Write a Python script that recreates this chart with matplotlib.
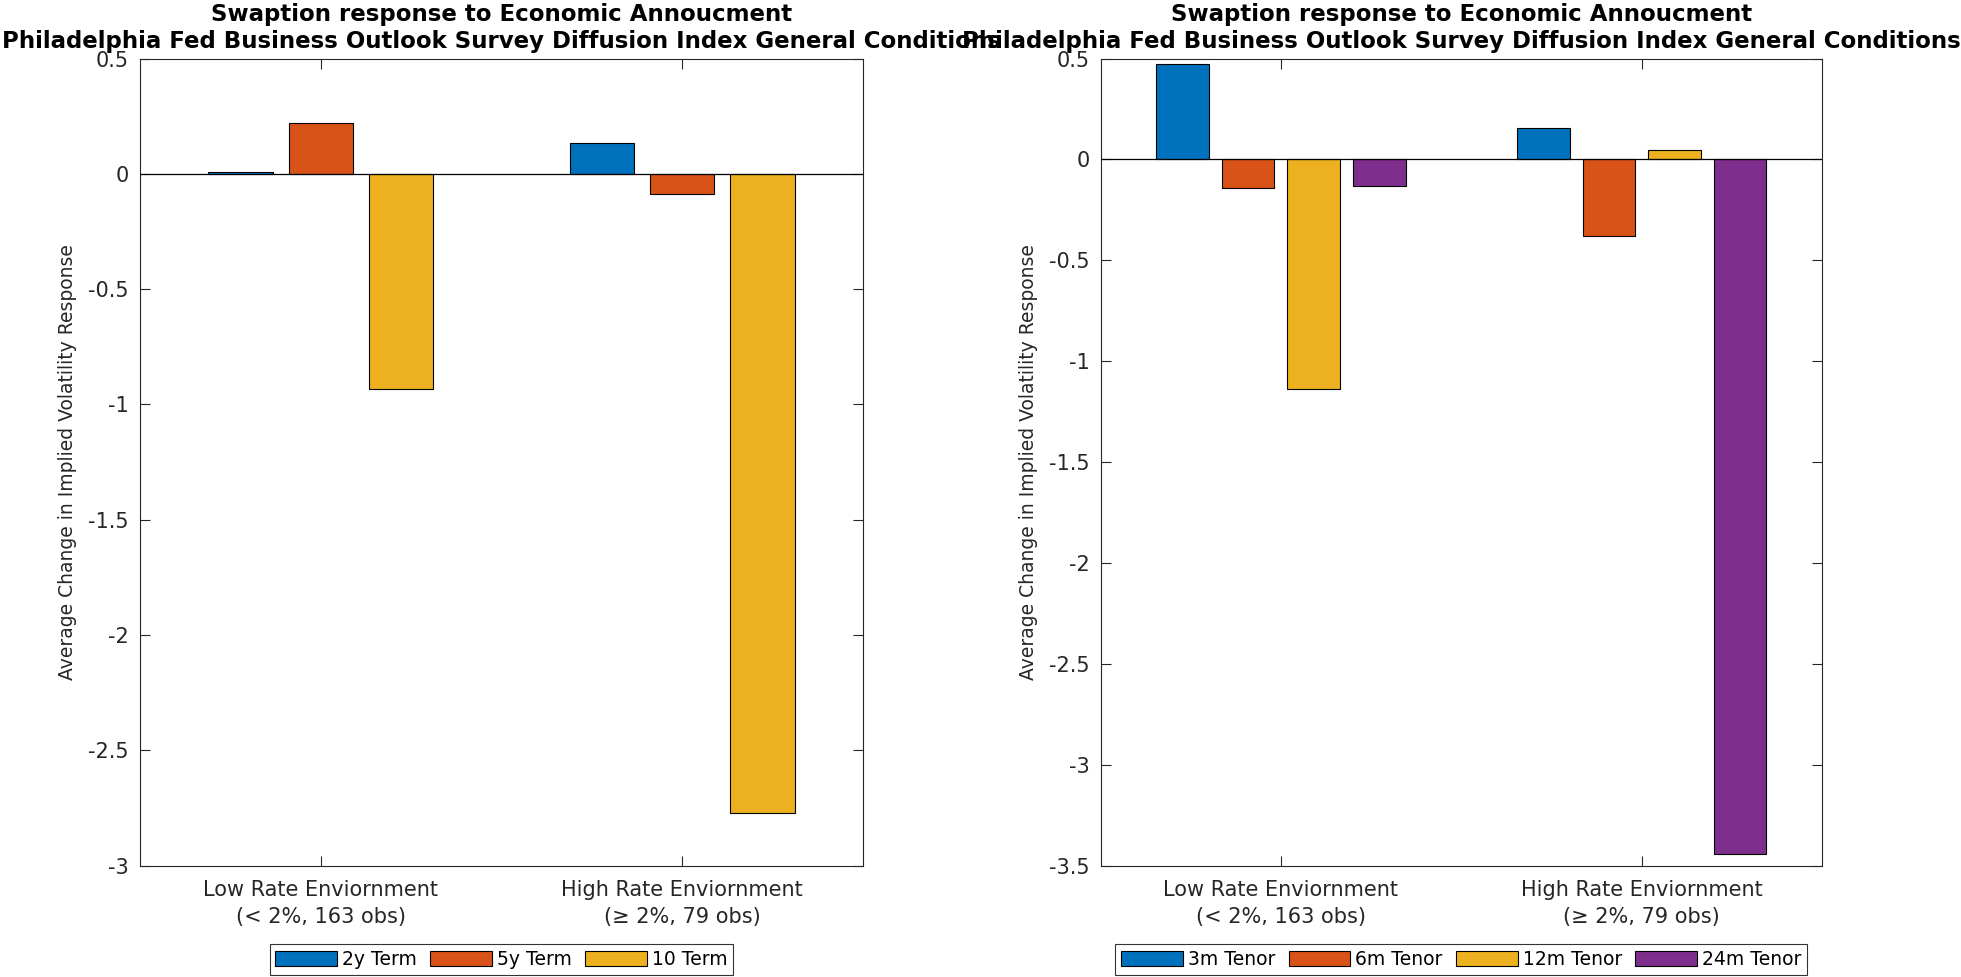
import matplotlib.pyplot as plt
import numpy as np

plt.rcParams["font.family"] = ["DejaVu Sans"]

groups = ["Low Rate Enviornment\n(< 2%, 163 obs)", "High Rate Enviornment\n(\u2265 2%, 79 obs)"]
title_top = "Swaption response to Economic Annoucment"
title_bottom = "Philadelphia Fed Business Outlook Survey Diffusion Index General Conditions"
ylabel = "Average Change in Implied Volatility Response"

term_names = ["2y Term", "5y Term", "10 Term"]
term_low = [0.01, 0.22, -0.935]
term_high = [0.135, -0.088, -2.77]

tenor_names = ["3m Tenor", "6m Tenor", "12m Tenor", "24m Tenor"]
tenor_low = [0.475, -0.14, -1.14, -0.13]
tenor_high = [0.155, -0.38, 0.045, -3.44]

colors = ["#0072BD", "#D95319", "#EDB120", "#7E2F8E"]
grey = (0.15, 0.15, 0.15)


def grouped_bars(ax, names, low, high, ylim, yticks):
    n = len(names)
    x = np.array([1, 2])
    group_width = min(0.8, n / (n + 1.5))
    step = group_width / n
    for i, name in enumerate(names):
        off = (i - (n - 1) / 2) * step
        ax.bar(x + off, [low[i], high[i]], width=step * 0.8, color=colors[i],
               edgecolor="black", linewidth=0.8, label=name, zorder=2)
    ax.axhline(0, color="black", linewidth=0.9, zorder=3)
    ax.set_xlim(0.5, 2.5)
    ax.set_ylim(*ylim)
    ax.set_xticks(x)
    ax.set_xticklabels(groups, fontsize=15, color=grey, linespacing=1.45)
    ax.set_yticks(yticks)
    ax.set_yticklabels(["%g" % t for t in yticks], fontsize=15, color=grey)
    ax.tick_params(direction="in", top=True, right=True, length=7, width=0.8,
                   colors=grey, labelcolor=grey, pad=8)
    ax.tick_params(axis="x", pad=10)
    for s in ax.spines.values():
        s.set_color(grey)
        s.set_linewidth(0.8)
    ax.set_ylabel(ylabel, fontsize=13.5, color=grey, labelpad=8)
    ax.set_title(title_top + "\n" + title_bottom, fontsize=16.5, fontweight="bold",
                 linespacing=1.2, pad=8)


fig = plt.figure(figsize=(19.61, 9.77), dpi=100)
ax1 = fig.add_axes([0.0714, 0.114, 0.3686, 0.826])
ax2 = fig.add_axes([0.5612, 0.114, 0.368, 0.826])

grouped_bars(ax1, term_names, term_low, term_high, (-3, 0.5), np.arange(-3, 0.51, 0.5))
grouped_bars(ax2, tenor_names, tenor_low, tenor_high, (-3.5, 0.5), np.arange(-3.5, 0.51, 0.5))

for ax in (ax1, ax2):
    pos = ax.get_position()
    leg = ax.legend(loc="center", bbox_to_anchor=(pos.x0 + pos.width / 2, 0.018),
                    bbox_transform=fig.transFigure, ncol=len(ax.containers),
                    fontsize=13.5, frameon=True, fancybox=False, edgecolor="black",
                    handlelength=3.3, handleheight=0.9, handletextpad=0.27,
                    columnspacing=0.7, borderpad=0.3, borderaxespad=0)
    leg.get_frame().set_linewidth(0.8)

fig.savefig("out.png", dpi=100)
